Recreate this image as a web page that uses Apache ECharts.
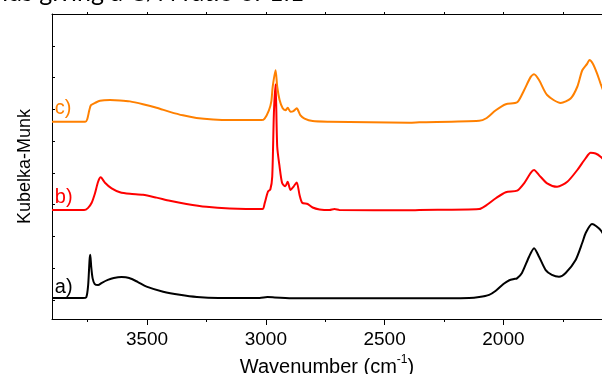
<!DOCTYPE html>
<html>
<head>
<meta charset="utf-8">
<script src="https://cdn.jsdelivr.net/npm/echarts@6/dist/echarts.min.js"></script>
<style>
html,body{margin:0;padding:0;background:#fff;}
#chart{width:602px;height:374px;}
</style>
</head>
<body>
<div id="chart"></div>
<script>
// Sample a) black
const aWave = [3900,3770,3756,3748,3742,3739,3735,3729,3720,3706,3690,3665,3640,3607,3575,3540,3502,3432,3362,3290,3200,3026,2993,2963,2879,2732,2354,2144,2102,2060,2032,2000,1975,1955,1943,1922,1892,1871,1850,1822,1796,1766,1738,1696,1668,1654,1627,1591,1565];
const aKM   = [0.06,0.06,0.08,0.45,1.25,1.42,1.05,0.68,0.50,0.47,0.54,0.63,0.69,0.72,0.69,0.57,0.42,0.26,0.16,0.09,0.06,0.06,0.09,0.08,0.05,0.05,0.05,0.06,0.09,0.16,0.29,0.50,0.62,0.66,0.68,0.85,1.36,1.63,1.36,0.94,0.79,0.73,0.85,1.26,1.80,2.10,2.39,2.20,1.85];
// Sample b) red
const bWave = [3900,3765,3749,3733,3719,3706,3695,3677,3649,3614,3572,3517,3460,3404,3334,3250,3152,3014,3005,2991,2981,2973,2966,2959,2952,2942,2931,2918,2908,2896,2884,2870,2858,2847,2824,2803,2774,2732,2711,2690,2396,2354,2102,2074,2032,1990,1942,1913,1885,1871,1850,1816,1774,1731,1689,1654,1633,1612,1591,1565];
const bKM   = [2.83,2.83,2.89,3.06,3.36,3.72,3.86,3.69,3.51,3.39,3.34,3.31,3.22,3.12,3.02,2.93,2.88,2.86,3.04,3.41,3.48,3.88,5.88,6.79,4.82,4.19,3.67,3.58,3.72,3.46,3.56,3.70,3.30,3.06,3.02,2.91,2.85,2.83,2.86,2.83,2.82,2.83,2.86,2.97,3.20,3.39,3.44,3.67,4.00,4.09,3.93,3.67,3.56,3.72,4.09,4.46,4.63,4.61,4.51,4.30];
// Sample c) orange
const cWave = [3900,3760,3752,3743,3736,3719,3698,3656,3614,3572,3517,3460,3404,3349,3292,3222,3152,3019,3005,2987,2977,2971,2959,2952,2942,2929,2917,2908,2896,2884,2870,2855,2837,2803,2732,2396,2354,2102,2074,2032,1990,1942,1913,1885,1871,1850,1816,1759,1717,1689,1668,1647,1638,1624,1606,1591,1565];
const cKM   = [5.61,5.61,5.68,5.97,6.13,6.20,6.27,6.29,6.28,6.25,6.16,6.05,5.92,5.81,5.73,5.68,5.66,5.66,5.71,5.97,6.24,6.71,7.23,6.71,6.29,6.03,5.97,6.05,5.92,5.94,6.03,5.82,5.71,5.63,5.61,5.58,5.59,5.64,5.71,5.97,6.16,6.22,6.60,7.02,7.10,6.92,6.45,6.20,6.34,6.71,7.23,7.44,7.55,7.44,7.13,6.81,6.30];

const xLabelTicks = [3500,3000,2500,2000];
const xMinorTicks = [3750,3250,2750,2250,1750];
const xAllTicks = [3750,3500,3250,3000,2750,2500,2250,2000,1750];
const yTicks = [0,1,2,3,4,5,6,7,8];

const seriesNames = ['a)','b)','c)'];
const labelPos = [[3888,0.38],[3888,3.24],[3888,6.04]];

const zip = (w,k) => w.map((v,i)=>[v,k[i]]);

const chart = echarts.init(document.getElementById('chart'), null, {renderer:'canvas'});
const xBase = {type:'value', inverse:true, min:1585, max:3900, gridIndex:0, splitLine:{show:false}};
function lineSeries(name, w, k, color, pos){
  return {
    name, type:'line', data: zip(w,k), showSymbol:false, symbol:'none',
    smooth:0.25, lineStyle:{color, width:2}, itemStyle:{color},
    markPoint:{
      symbol:'circle', symbolSize:0, silent:true,
      data:[{coord:pos, value:name}],
      label:{show:true, position:'right', distance:0, formatter:name, color, fontSize:20, fontFamily:'Liberation Sans'}
    }
  };
}
chart.setOption({
  animation:false,
  grid:{left:52, right:0, top:14, bottom:55, containLabel:false, outerBoundsMode:'none'},
  xAxis:[
    Object.assign({}, xBase, {
      position:'bottom',
      axisLine:{show:true, onZero:false, lineStyle:{color:'#000', width:1}},
      axisTick:{show:true, inside:false, length:6, customValues:xLabelTicks, lineStyle:{color:'#000'}},
      axisLabel:{show:true, customValues:xLabelTicks, formatter:(v)=>String(v), fontSize:19, fontFamily:'Liberation Sans', color:'#000', margin:11},
      name:'{a|Wavenumber (cm}{s|-1}{a|)}', nameLocation:'middle', nameGap:32,
      nameTextStyle:{rich:{
        a:{fontSize:20, fontFamily:'Liberation Sans', color:'#000', verticalAlign:'bottom', lineHeight:24},
        s:{fontSize:12, fontFamily:'Liberation Sans', color:'#000', verticalAlign:'top', lineHeight:24}
      }}
    }),
    Object.assign({}, xBase, {
      position:'bottom',
      axisLine:{show:false, onZero:false},
      axisTick:{show:true, inside:false, length:3, customValues:xMinorTicks, lineStyle:{color:'#000'}},
      axisLabel:{show:false}
    }),
    Object.assign({}, xBase, {
      position:'top',
      axisLine:{show:true, onZero:false, lineStyle:{color:'#000', width:1}},
      axisTick:{show:true, inside:false, length:2, customValues:xAllTicks, lineStyle:{color:'#000'}},
      axisLabel:{show:false}
    })
  ],
  yAxis:{
    type:'value', min:-0.6, max:9,
    axisLine:{show:true, onZero:false, lineStyle:{color:'#000', width:1}},
    axisTick:{show:true, inside:true, length:3, customValues:yTicks, lineStyle:{color:'#000'}},
    axisLabel:{show:false},
    splitLine:{show:false},
    name:'Kubelka-Munk', nameLocation:'middle', nameRotate:90, nameGap:18,
    nameTextStyle:{fontSize:18, fontFamily:'Liberation Sans', color:'#000'}
  },
  graphic:[{
    type:'text', left:-6, top:-20,
    style:{text:'nds giving a C/N ratio of 1:1', font:'25px Lato', fill:'#000'}
  }],
  series:[
    lineSeries(seriesNames[0], aWave, aKM, '#000000', labelPos[0]),
    lineSeries(seriesNames[2], cWave, cKM, '#ff8000', labelPos[2]),
    lineSeries(seriesNames[1], bWave, bKM, '#ff0000', labelPos[1])
  ]
});
</script>
</body>
</html>
